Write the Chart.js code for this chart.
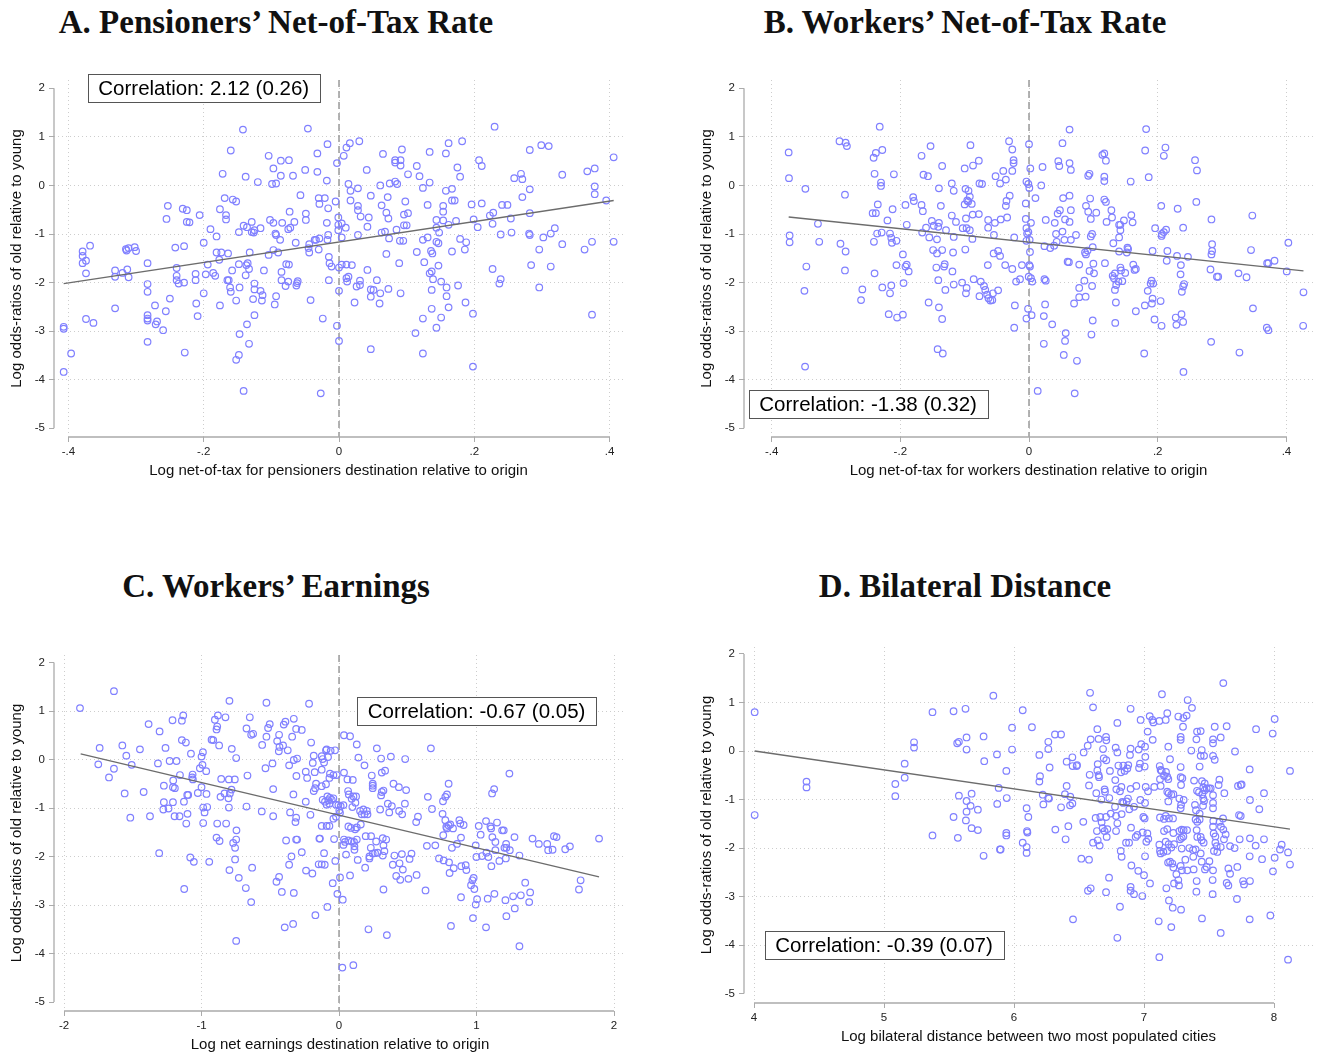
<!DOCTYPE html>
<html>
<head>
<meta charset="utf-8">
<title>Log odds-ratios</title>
<script src="https://cdn.jsdelivr.net/npm/chart.js@4.4.1/dist/chart.umd.min.js"></script>
<style>
    body { margin: 0; background: #fff; width: 1320px; height: 1055px; position: relative; overflow: hidden; }
    .titolo { position: absolute; font-family: "Liberation Serif", serif; font-weight: bold; font-size: 33px;
              line-height: 33px; color: #111; text-align: center; white-space: nowrap; }
    canvas { position: absolute; }
</style>
</head>
<body>
<div class="titolo" style="left:0;width:552px;top:6px">A. Pensioners’ Net-of-Tax Rate</div>
<div class="titolo" style="left:690px;width:550px;top:6px">B. Workers’ Net-of-Tax Rate</div>
<div class="titolo" style="left:0;width:552px;top:570px">C. Workers’ Earnings</div>
<div class="titolo" style="left:690px;width:550px;top:570px">D. Bilateral Distance</div>

<canvas id="graficoA" width="660" height="440" style="left:0;top:60px"></canvas>
<canvas id="graficoB" width="630" height="440" style="left:690px;top:60px"></canvas>
<canvas id="graficoC" width="660" height="455" style="left:0;top:600px"></canvas>
<canvas id="graficoD" width="630" height="455" style="left:690px;top:600px"></canvas>

<script>
// tick degli assi
var ticksXA = [-0.4, -0.2, 0, 0.2, 0.4];
var ticksXB = [-0.4, -0.2, 0, 0.2, 0.4];
var ticksXC = [-2, -1, 0, 1, 2];
var ticksXD = [4, 5, 6, 7, 8];
var ticksY = [-5, -4, -3, -2, -1, 0, 1, 2];

// testi
var titoloY = 'Log odds-ratios of old relative to young';
var titoliX = [
    'Log net-of-tax for pensioners destination relative to origin',
    'Log net-of-tax for workers destination relative to origin',
    'Log net earnings destination relative to origin',
    'Log bilateral distance between two most populated cities'
];
var correlazioni = [
    'Correlation: 2.12 (0.26)',
    'Correlation: -1.38 (0.32)',
    'Correlation: -0.67 (0.05)',
    'Correlation: -0.39 (0.07)'
];

// rette di regressione (estremi)
var fitAx = [-0.407, 0.406], fitAy = [-2.02, -0.31];
var fitBx = [-0.3735, 0.4265], fitBy = [-0.65, -1.76];
var fitCx = [-1.879, 1.891], fitCy = [0.116, -2.42];
var fitDx = [4.005, 8.123], fitDy = [0.0, -1.61];

// punti [x, y]
var puntiA = [
[-0.407,-2.91],[-0.407,-2.95],[-0.396,-3.46],[-0.407,-3.84],[-0.379,-1.36],[-0.379,-1.45],[-0.379,-1.60],[-0.374,-1.55],[-0.374,-1.81],[-0.368,-1.24],[-0.374,-2.75],[-0.363,-2.83],
[-0.331,-1.75],[-0.331,-1.88],[-0.331,-2.53],[-0.32,-1.80],[-0.314,-1.34],[-0.315,-1.31],[-0.311,-1.29],[-0.313,-1.73],[-0.311,-1.89],[-0.302,-1.27],[-0.300,-1.35],
[-0.283,-1.60],[-0.283,-2.03],[-0.283,-2.19],[-0.283,-2.67],[-0.283,-2.74],[-0.283,-2.78],[-0.283,-3.22],[-0.272,-2.47],[-0.271,-2.86],[-0.269,-2.80],[-0.260,-2.98],[-0.256,-2.59],[-0.250,-2.33],[-0.253,-0.42],[-0.255,-0.69],[-0.242,-1.28],[-0.240,-1.70],[-0.240,-1.86],[-0.240,-1.95],[-0.237,-2.02],[-0.231,-0.48],[-0.225,-0.51],[-0.229,-1.25],[-0.229,-2.00],[-0.228,-3.44],[-0.225,-0.75],[-0.221,-0.76],[-0.212,-1.82],[-0.212,-1.95],[-0.211,-2.43],[-0.209,-2.69],[-0.206,-0.61],[-0.200,-1.18],[-0.200,-2.22],[-0.194,-1.63],[-0.197,-1.83],[-0.190,-0.90],[-0.186,-1.80],[-0.183,-1.86],[-0.181,-1.05],[-0.176,-0.49],[-0.176,-2.47],[-0.172,0.24],[-0.169,-0.26],[-0.167,-0.61],[-0.167,-0.70],[-0.181,-1.38],[-0.177,-1.53],[-0.174,-1.38],[-0.164,-1.40],[-0.165,-1.95],[-0.163,-1.95],[-0.161,-2.10],[-0.160,0.72],[-0.160,-2.19],[-0.158,-1.75],[-0.157,-0.29],[-0.152,-0.33],[-0.152,-2.37],[-0.147,-3.06],[-0.148,-0.96],[-0.148,-1.62],[-0.147,-2.10],[-0.148,-3.49],[-0.152,-3.59],[-0.142,1.15],[-0.141,-4.23],[-0.141,-0.83],[-0.138,0.18],[-0.138,-1.85],[-0.137,-1.64],[-0.135,-1.60],[-0.136,-0.86],[-0.133,-1.72],[-0.132,-1.38],[-0.136,-2.86],[-0.133,-3.26],[-0.129,-0.75],[-0.129,-0.96],[-0.126,-0.97],[-0.125,-0.92],[-0.125,-2.02],[-0.125,-2.14],[-0.127,-2.34],[-0.125,-2.67],[-0.120,0.07],[-0.116,-0.88],[-0.116,-2.17],[-0.113,-2.26],[-0.114,-2.37],[-0.111,-1.75],[-0.104,0.61],[-0.104,-1.43],[-0.102,-0.71],[-0.097,-0.77],[-0.097,0.35],[-0.099,0.03],[-0.093,0.04],[-0.097,-1.33],[-0.094,-0.99],[-0.093,-1.02],[-0.090,-1.38],[-0.087,-1.12],[-0.086,0.51],[-0.086,0.20],[-0.084,-0.77],[-0.085,-1.78],[-0.085,-1.95],[-0.093,-2.28],[-0.095,-2.45],[-0.079,-2.07],[-0.078,-1.62],[-0.074,0.52],[-0.075,-1.98],[-0.075,-0.90],[-0.072,-0.87],[-0.073,-0.54],[-0.074,-1.63],[-0.068,0.20],[-0.066,-0.75],[-0.064,-1.18],[-0.063,-2.06],[-0.062,-2.01],[-0.061,-1.97],[-0.057,-0.20],[-0.050,0.32],[-0.049,-0.58],[-0.049,-0.71],[-0.046,1.17],[-0.044,-1.21],[-0.045,-1.29],[-0.044,-1.38],[-0.042,-2.36],[-0.036,-1.12],[-0.034,-1.12],[-0.032,0.66],[-0.032,0.28],[-0.030,-0.26],[-0.029,-0.38],[-0.030,-1.32],[-0.029,-1.09],[-0.027,-4.28],[-0.024,-2.74],[-0.021,-0.26],[-0.018,0.10],[-0.017,0.85],[-0.018,-0.77],[-0.016,-1.02],[-0.017,-1.12],[-0.015,-1.47],[-0.014,-1.60],[-0.015,-1.95],[-0.016,-0.47],[-0.011,-1.67],
[-0.003,0.46],[-0.005,-0.33],[-0.001,-0.66],[-0.001,-0.81],[-0.001,-0.92],[0.004,-0.78],[0.004,-1.07],[0,-1.69],[0,-2.17],[-0.003,-2.89],[0,-3.20],[0.004,-1.63],[0.007,0.61],[0.011,0.78],[0.016,0.87],[0.030,0.91],[0.014,0.03],[0.017,-0.11],[0.017,-0.31],[0.028,-0.06],[0.028,-0.42],[0.028,-0.51],[0.032,-0.64],[0.028,-1.02],[0.010,-0.87],[0.011,-1.63],[0.019,-1.64],[0.011,-1.91],[0.014,-1.88],[0.012,-1.98],[0.023,-2.41],[0.026,-2.08],[0.031,-1.96],[0.031,-2.05],[0.041,0.32],[0.044,-0.66],[0.042,-0.85],[0.042,-1.74],[0.047,-0.21],[0.047,-2.14],[0.051,-2.15],[0.047,-2.29],[0.047,-3.37],[0.056,-1.95],[0.061,-2.22],[0.060,-2.43],[0.061,0.00],[0.065,0.65],[0.063,-0.41],[0.063,-0.97],[0.068,-0.95],[0.070,-1.41],[0.072,-0.24],[0.070,-0.56],[0.073,-0.68],[0.074,-1.09],[0.073,-2.13],[0.075,0.04],[0.083,0.52],[0.083,0.47],[0.083,0.08],[0.086,0.03],[0.085,-0.91],[0.089,-1.60],[0.090,-1.14],[0.095,-1.14],[0.091,0.52],[0.091,0.41],[0.093,0.74],[0.091,-2.22],[0.096,-0.60],[0.098,-0.33],[0.102,-0.57],[0.096,-0.82],[0.100,-0.82],[0.102,0.23],[0.115,0.40],[0.119,0.19],[0.124,-0.05],[0.131,-0.40],[0.131,-1.07],[0.124,-1.12],[0.115,-1.37],[0.126,-1.58],[0.134,0.69],[0.134,0.06],[0.134,-1.81],[0.137,-1.77],[0.136,-1.35],[0.138,-1.40],[0.139,-1.93],[0.137,-2.15],[0.137,-2.54],[0.124,-2.74],[0.113,-3.04],[0.124,-3.46],[0.144,-2.93],[0.151,-2.72],[0.151,-1.98],[0.144,-1.16],[0.147,-1.19],[0.147,-1.65],[0.144,-0.87],[0.144,-0.71],[0.148,-0.97],[0.154,-0.42],[0.154,-0.54],[0.154,-0.72],[0.158,0.66],[0.158,-0.11],[0.162,0.87],[0.159,-2.10],[0.159,-2.28],[0.162,-2.51],[0.162,-0.81],[0.167,-0.07],[0.167,-0.31],[0.171,-0.31],[0.167,-1.36],[0.173,-0.73],[0.175,0.37],[0.179,0.18],[0.179,-1.10],[0.176,-2.06],[0.182,0.91],[0.186,-1.32],[0.188,-1.17],[0.187,-2.41],[0.196,-0.39],[0.199,-0.70],[0.205,-0.86],[0.198,-2.64],[0.198,-3.73],[0.207,0.52],[0.211,0.40],[0.211,-0.37],[0.223,-0.62],[0.228,-0.56],[0.227,-0.79],[0.227,-1.72],[0.230,1.21],[0.239,-1.01],[0.239,-1.93],[0.237,-2.02],[0.241,-0.40],[0.249,-0.40],[0.254,-0.68],[0.255,-0.97],[0.259,0.15],[0.269,0.24],[0.271,0.13],[0.271,-0.24],[0.282,0.73],[0.282,-0.08],[0.282,-0.57],[0.281,-0.99],[0.282,-1.02],[0.284,-1.64],[0.296,-2.10],[0.296,-1.32],[0.299,0.83],[0.302,-1.07],[0.310,0.81],[0.313,-0.99],[0.313,-1.67],[0.319,-0.88],[0.330,0.22],[0.330,-1.21],[0.363,-1.32],[0.367,0.29],[0.374,-1.16],[0.374,-2.66],[0.378,0.35],[0.378,-0.02],[0.378,-0.18],[0.395,-0.31],[0.406,0.58],[0.406,-1.16]
];

var puntiB = [
[-0.3735,0.68],[-0.373,0.15],[-0.372,-1.03],[-0.372,-1.17],[-0.3475,-0.07],[-0.349,-2.17],[-0.346,-1.67],[-0.348,-3.73],[-0.328,-0.79],[-0.326,-1.16],[-0.2945,0.91],[-0.285,0.88],[-0.283,0.81],[-0.286,-0.19],[-0.293,-1.20],[-0.285,-1.36],[-0.286,-1.75],[-0.261,-2.36],[-0.259,-2.14],[-0.2415,0.57],[-0.238,0.67],[-0.232,1.21],[-0.228,0.73],[-0.240,0.24],[-0.230,0.06],[-0.230,-0.01],[-0.235,-0.39],[-0.243,-0.57],[-0.238,-0.57],[-0.236,-0.99],[-0.229,-0.97],[-0.241,-1.16],[-0.240,-1.81],[-0.220,-0.72],[-0.216,-0.99],[-0.214,-1.08],[-0.213,-1.18],[-0.206,-1.14],[-0.212,-0.49],[-0.210,0.23],[-0.228,-2.10],[-0.216,-2.22],[-0.214,-2.06],[-0.218,-2.65],[-0.205,-2.72],[-0.196,-2.66],[-0.206,-1.64],[-0.196,-1.42],[-0.195,-2.01],[-0.192,-0.40],[-0.190,-0.81],[-0.192,-1.67],[-0.190,-1.63],[-0.187,-1.77],[-0.180,-0.24],[-0.179,-0.32],[-0.167,0.61],[-0.167,-0.40],[-0.165,-0.53],[-0.164,0.22],[-0.157,0.19],[-0.153,0.81],[-0.166,-0.97],[-0.160,-0.87],[-0.155,-1.07],[-0.151,-0.73],[-0.148,-0.83],[-0.149,-1.33],[-0.143,-1.40],[-0.140,-0.77],[-0.141,-0.85],[-0.143,-1.11],[-0.144,-1.69],[-0.141,-1.95],[-0.156,-2.41],[-0.140,-2.51],[-0.135,-2.75],[-0.142,-3.37],[-0.134,-3.46],[-0.140,-0.06],[-0.135,0.40],[-0.137,-0.42],[-0.135,-1.33],[-0.131,-1.62],[-0.132,-1.67],[-0.130,-2.15],[-0.129,-0.92],[-0.120,0.04],[-0.117,-0.11],[-0.120,-0.62],[-0.1135,-0.75],[-0.117,-1.06],[-0.118,-1.38],[-0.119,-1.77],[-0.117,-2.04],[-0.104,-2.00],[-0.100,0.35],[-0.0987,-0.07],[-0.094,-0.11],[-0.100,-0.39],[-0.096,-0.31],[-0.092,-0.23],[-0.0945,-0.33],[-0.089,-0.38],[-0.098,-0.68],[-0.0875,-0.60],[-0.078,-0.59],[-0.103,-0.88],[-0.097,-0.88],[-0.092,-0.92],[-0.088,-1.10],[-0.099,-1.32],[-0.091,0.83],[-0.087,0.41],[-0.078,0.51],[-0.077,0.04],[-0.073,0.03],[-0.097,-2.11],[-0.098,-2.22],[-0.086,-1.93],[-0.077,-2.28],[-0.075,-1.98],[-0.070,-2.07],[-0.068,-2.15],[-0.065,-2.25],[-0.063,-2.32],[-0.060,-2.37],[-0.057,-2.36],[-0.056,-2.22],[-0.048,-2.16],[-0.0635,-0.71],[-0.0635,-0.87],[-0.064,-1.64],[-0.0545,-1.02],[-0.053,-0.77],[-0.055,-1.40],[-0.048,-1.35],[-0.045,-1.45],[-0.052,0.19],[-0.045,0.04],[-0.044,-0.70],
[-0.031,0.91],[-0.026,0.74],[-0.024,0.52],[-0.024,0.46],[-0.040,0.30],[-0.026,0.30],[-0.036,0.12],[-0.030,-0.21],[-0.035,-0.32],[-0.036,-0.42],[-0.034,-0.66],[-0.023,-1.07],[-0.037,-1.64],[-0.026,-1.72],[-0.020,-1.98],[-0.014,-1.93],[-0.022,-2.47],[-0.023,-2.93],[0,0.85],[0.002,0.35],[-0.004,0.08],[-0.001,0.03],[0.0005,-0.05],[-0.005,-0.37],[-0.005,-0.69],[0.003,-0.77],[-0.004,-0.88],[-0.001,-0.96],[-0.003,-0.99],[0.001,-1.12],[-0.004,-1.14],[0.0015,-1.37],[0.0005,-1.64],[0.0015,-1.67],[-0.0005,-1.88],[0.003,-1.91],[0.005,-1.98],[-0.0015,-2.54],[-0.004,-2.74],[0.004,-2.67],[0.0135,-4.23],[-0.011,-1.64],[0.010,-0.26],[0.021,0.38],[0.019,0.00],[0.026,-0.71],[0.024,-1.25],[0.024,-1.93],[0.026,-1.96],[0.025,-2.45],[0.023,-2.69],[0.023,-3.26],[0.036,-2.86],[0.033,-1.29],[0.039,-1.24],[0.040,-0.77],[0.043,-1.16],[0.042,-1.00],[0.0445,-0.58],[0.048,-0.51],[0.0455,0.50],[0.047,0.40],[0.052,0.87],[0.053,-0.26],[0.052,-0.95],[0.055,-1.12],[0.056,-0.70],[0.063,1.15],[0.063,0.46],[0.065,0.32],[0.063,-0.21],[0.065,-0.51],[0.063,-0.75],[0.065,-1.12],[0.073,-1.02],[0.060,-1.57],[0.062,-1.58],[0.078,-1.63],[0.078,-2.11],[0.078,-2.30],[0.070,-2.43],[0.057,-3.04],[0.056,-3.20],[0.054,-3.49],[0.0745,-3.61],[0.071,-4.28],[0.086,-1.96],[0.088,-2.29],[0.087,-1.38],[0.0885,-1.42],[0.091,-1.34],[0.0885,-0.42],[0.092,-0.54],[0.092,0.20],[0.094,0.24],[0.095,-0.27],[0.096,-0.69],[0.096,-1.05],[0.098,-1.00],[0.099,-1.27],[0.094,-1.76],[0.101,-1.81],[0.100,-1.61],[0.098,-2.07],[0.099,-2.78],[0.097,-3.07],[0.1045,-0.56],[0.114,0.63],[0.117,0.66],[0.1195,0.51],[0.117,0.18],[0.117,0.09],[0.117,-0.29],[0.1195,-0.34],[0.1205,-0.75],[0.118,-1.60],[0.128,-0.51],[0.129,-0.66],[0.131,-1.19],[0.130,-1.86],[0.1335,-1.81],[0.132,-1.91],[0.1355,-2.05],[0.1335,-2.15],[0.135,-2.41],[0.134,-2.83],[0.139,-1.98],[0.140,-0.81],[0.142,-0.81],[0.142,-0.92],[0.140,-1.07],[0.140,-1.36],[0.142,-1.69],[0.143,-1.75],[0.145,-1.97],[0.1475,-0.72],[0.1495,-1.80],[0.152,-1.38],[0.153,-1.28],[0.154,-1.31],[0.158,0.08],[0.159,-0.61],[0.161,-0.76],[0.162,-1.63],[0.164,-1.74],[0.166,-1.72],[0.166,-2.59],[0.179,-3.46],[0.1805,0.72],[0.182,1.16],[0.186,0.17],[0.180,-2.47],[0.1845,-2.17],[0.189,-2.02],[0.1905,-1.96],[0.193,-2.02],[0.192,-2.33],[0.191,-2.43],[0.192,-1.35],[0.196,-0.88],[0.195,-2.76],[0.2055,-0.42],[0.2065,-1.00],[0.206,-1.04],[0.2095,-0.96],[0.213,-0.91],[0.2095,0.61],[0.212,0.78],[0.215,-1.35],[0.214,-1.55],[0.2045,-2.38],[0.206,-2.89],[0.228,-2.72],[0.229,-2.87],[0.231,-0.48],[0.230,-1.45],[0.236,-1.64],[0.2355,-1.83],[0.2395,-0.87],[0.247,-1.47],[0.237,-2.65],[0.2395,-2.81],[0.2375,-2.19],[0.2395,-2.08],[0.241,-2.03],[0.240,-3.84],[0.258,0.52],[0.261,0.31],[0.260,-0.34],[0.2835,-0.70],[0.2845,-1.21],[0.2845,-1.35],[0.2835,-1.42],[0.282,-1.73],[0.292,-1.88],[0.294,-1.88],[0.283,-3.22],[0.3255,-1.81],[0.338,-1.89],[0.327,-3.44],[0.347,-0.62],[0.345,-1.33],[0.348,-2.53],[0.3695,-2.93],[0.372,-2.98],[0.370,-1.60],[0.372,-1.60],[0.3815,-1.55],[0.4005,-1.77],[0.403,-1.18],[0.4265,-2.20],[0.426,-2.89]
];

var puntiC = [
[-1.884,1.06],[-1.637,1.41],[-1.741,0.24],[-1.751,-0.10],[-1.673,-0.37],[-1.637,-0.19],[-1.576,0.29],[-1.547,0.08],[-1.508,-0.11],[-1.559,-0.70],[-1.518,-1.20],[-1.448,0.21],[-1.421,-0.67],[-1.385,0.73],[-1.375,-1.17],[-1.317,-0.08],[-1.305,0.58],[-1.308,-1.93],[-1.274,-0.54],[-1.274,-0.88],[-1.278,-1.03],[-1.262,0.24],[-1.240,-1.01],[-1.232,-0.03],[-1.208,-0.88],[-1.211,0.81],[-1.206,-0.43],[-1.208,-0.57],[-1.194,-0.59],[-1.196,-1.17],[-1.182,-0.03],[-1.157,-0.32],[-1.160,-1.17],[-1.143,0.80],[-1.133,0.91],[-1.143,0.40],[-1.114,0.35],[-1.128,-0.87],[-1.111,-1.32],[-1.104,-0.73],[-1.097,-0.73],[-1.102,-1.12],[-1.126,-2.67],[-1.082,-2.02],[-1.056,-2.11],[-1.077,0.12],[-1.065,-0.31],[-1.068,-0.37],[-1.063,-0.41],[-1.027,-0.69],[-1.012,-0.18],[-0.993,-0.11],[-1.000,0.06],[-0.990,0.15],[-1.000,-0.57],[-0.966,-0.24],[-0.964,-0.71],[-0.988,-0.99],[-0.978,-1.09],[-0.959,-0.98],[-0.988,-1.31],[-0.944,-2.11],[-0.927,0.41],[-0.915,0.40],[-0.903,0.82],[-0.891,0.62],[-0.886,0.68],[-0.881,0.91],[-0.872,0.29],[-0.891,-1.61],[-0.886,-1.32],[-0.869,-1.68],[-0.857,-0.40],[-0.862,-0.77],[-0.833,-0.70],[-0.826,0.87],[-0.821,-1.32],[-0.801,-0.41],[-0.804,-0.80],[-0.801,-0.99],[-0.797,1.21],[-0.780,0.22],[-0.782,-0.62],[-0.794,-0.70],[-0.758,-0.41],[-0.748,0.03],[-0.746,-1.46],[-0.748,-1.65],[-0.770,-1.72],[-0.756,-1.82],[-0.756,-2.06],[-0.797,-2.28],[-0.729,-2.44],[-0.748,-3.74],[-0.678,-2.65],[-0.639,-2.94],[-0.632,-2.23],[-0.673,0.64],[-0.649,0.87],[-0.639,0.51],[-0.625,0.53],[-0.666,-0.33],[-0.673,-0.97],[-0.559,0.30],[-0.562,-1.07],[-0.535,-0.18],[-0.528,1.17],[-0.528,0.47],[-0.516,0.65],[-0.504,0.73],[-0.484,-0.08],[-0.479,-0.61],[-0.479,-1.17],[-0.455,-2.52],[-0.436,-2.42],[-0.416,-2.73],[-0.395,-3.46],[-0.450,0.38],[-0.436,0.51],[-0.433,0.26],[-0.438,0.17],[-0.402,0.72],[-0.390,0.78],[-0.407,0.29],[-0.373,0.19],[-0.385,-1.67],[-0.363,-0.12],[-0.356,-1.09],[-0.363,-2.17],[-0.346,-2.00],[-0.341,0.47],[-0.329,0.84],[-0.332,-0.72],[-0.329,-0.01],[-0.317,-1.29],[-0.312,-1.20],[-0.312,-1.65],[-0.305,-1.65],[-0.310,-0.34],[-0.305,0.02],[-0.312,0.63],[-0.329,-2.75],[-0.334,-3.39],[-0.271,0.61],[-0.271,-1.91],[-0.242,-0.25],[-0.232,-0.38],[-0.242,-0.87],[-0.240,-2.29],[-0.208,-1.14],[-0.218,1.15],[-0.203,0.35],[-0.194,-2.35],[-0.191,-0.07],[-0.184,0.08],[-0.177,-0.26],[-0.184,-0.65],[-0.174,-0.59],[-0.167,-0.50],[-0.172,-3.21],[-0.143,-1.63],[-0.148,-2.16],
[-0.126,0.07],[-0.095,0.19],[-0.090,0.21],[-0.061,0.18],[-0.029,0.19],[-0.119,0.01],[-0.080,0.05],[-0.109,-0.06],[-0.126,-0.21],[-0.066,-0.29],[-0.041,-0.32],[-0.017,-0.32],[-0.070,-0.38],[-0.126,-0.55],[-0.095,-0.51],[-0.119,-0.83],[-0.102,-0.87],[-0.085,-0.76],[-0.078,-0.84],[-0.066,-0.79],[-0.053,-0.83],[-0.041,-0.80],[-0.090,-0.93],[-0.070,-0.91],[-0.022,-0.93],[-0.005,-0.94],[0.012,-0.96],[0.032,-0.94],[0.002,-1.05],[0.007,-1.10],[-0.041,-1.22],[-0.022,-1.18],[-0.090,-1.37],[-0.070,-1.37],[-0.126,-1.37],[-0.139,-1.63],[-0.036,-1.64],[-0.109,-1.93],[-0.126,-2.16],[-0.104,-2.17],[-0.027,-2.09],[-0.046,-2.55],[0.007,-2.43],[-0.012,-2.77],[0.027,-2.89],[-0.085,-3.04],[0.024,-4.29],[0.104,-4.24],[0.036,0.50],[0.080,0.48],[0.129,0.31],[0.141,0.04],[0.185,-0.12],[0.036,-0.27],[0.061,-0.41],[0.100,-0.42],[0.066,-0.65],[0.071,-0.72],[0.092,-0.81],[0.105,-0.76],[0.124,-0.76],[0.097,-0.98],[0.119,-0.89],[0.068,-1.38],[0.087,-1.41],[0.117,-1.44],[0.129,-1.40],[0.158,-1.34],[0.036,-1.65],[0.044,-1.70],[0.068,-1.67],[0.092,-1.69],[0.109,-1.70],[0.129,-1.65],[0.032,-1.76],[0.112,-1.79],[0.112,-1.86],[0.051,-1.96],[0.136,-2.07],[0.080,-2.39],[0.153,-1.06],[0.165,-1.13],[0.185,-1.13],[0.202,-1.06],[0.207,-1.13],[0.177,-1.03],[0.194,-1.58],[0.190,-2.23],[0.214,-3.50],[0.233,-1.58],[0.238,-0.33],[0.245,-0.50],[0.245,-0.54],[0.245,-0.59],[0.275,0.23],[0.270,-1.69],[0.221,-2.00],[0.221,-2.04],[0.231,-1.82],[0.245,-1.94],[0.262,-1.93],[0.280,-1.92],[0.299,-1.03],[0.306,-0.74],[0.311,-0.67],[0.306,0.02],[0.311,-0.27],[0.335,-0.23],[0.323,-0.64],[0.318,-1.62],[0.343,-1.65],[0.323,-1.77],[0.330,-1.89],[0.318,-1.98],[0.323,-2.68],[0.348,-3.62],[0.355,-0.91],[0.365,-1.09],[0.377,0.06],[0.384,-0.96],[0.396,-0.50],[0.435,-0.57],[0.437,-1.06],[0.459,-1.13],[0.479,-0.91],[0.488,-0.63],[0.481,0.01],[0.403,-1.98],[0.457,-1.95],[0.391,-2.17],[0.440,-2.14],[0.416,-2.40],[0.445,-2.48],[0.464,-2.27],[0.505,-2.46],[0.513,-2.05],[0.527,-1.94],[0.561,-1.29],[0.574,-1.18],[0.564,-2.38],[0.629,-2.70],[0.639,-1.78],[0.700,-1.77],[0.646,-0.77],[0.676,-1.02],[0.668,0.23],[0.727,-2.04],[0.761,-2.08],[0.753,-1.12],[0.756,-0.86],[0.773,-1.25],[0.780,-1.39],[0.785,-1.42],[0.758,-1.56],[0.773,-0.77],[0.785,-0.72],[0.797,-0.50],[0.797,-1.36],[0.809,-1.34],[0.829,-1.42],[0.800,-2.12],[0.804,-2.34],[0.834,-2.24],[0.821,-1.82],[0.814,-3.43],[0.858,-1.74],[0.875,-1.25],[0.882,-1.32],[0.906,-1.35],[0.887,-1.61],[0.889,-2.20],[0.921,-2.18],[0.926,-2.28],[0.887,-2.84],[0.960,-2.59],[0.970,-2.49],[0.979,-2.44],[0.984,-2.67],[0.974,-3.27],[0.994,-2.99],[1.004,-2.88],[0.994,-1.77],[0.999,-2.01],[1.016,-1.37],[1.030,-1.55],[1.040,-1.99],[1.069,-1.27],[1.072,-1.92],[1.086,-2.01],[1.101,-1.38],[1.106,-1.42],[1.108,-2.20],[1.081,-2.87],[1.069,-3.46],[1.113,-0.70],[1.128,-0.61],[1.115,-1.60],[1.137,-1.70],[1.137,-1.87],[1.149,-1.30],[1.130,-2.77],[1.166,-2.09],[1.186,-1.46],[1.198,-1.46],[1.203,-1.82],[1.217,-1.82],[1.215,-1.74],[1.213,-2.04],[1.242,-1.87],[1.239,-0.29],[1.210,-2.90],[1.217,-3.23],[1.276,-1.60],[1.266,-2.82],[1.278,-3.07],[1.312,-1.98],[1.322,-2.80],[1.312,-3.85],[1.354,-2.54],[1.383,-2.94],[1.390,-2.74],[1.407,-1.63],[1.453,-1.74],[1.514,-1.74],[1.521,-1.87],[1.553,-1.86],[1.563,-1.58],[1.582,-1.60],[1.645,-1.85],[1.679,-1.79],[1.745,-2.68],[1.757,-2.49],[1.891,-1.63]
];

var puntiD = [
[4.005,0.80],[4.005,-1.32],[4.404,-0.63],[4.404,-0.75],[5.087,-0.68],[5.087,-0.93],[5.159,-0.26],[5.159,-0.55],[5.231,0.18],[5.231,0.07],[5.373,0.80],[5.373,-1.74],[5.535,0.82],[5.535,-1.36],[5.568,-1.79],[5.627,0.87],[5.635,0.28],[5.635,0.03],[5.563,0.16],[5.576,0.19],[5.576,-0.92],[5.674,-0.88],[5.635,-1.03],[5.666,-1.13],[5.635,-1.25],[5.722,-1.21],[5.630,-1.43],[5.674,-1.59],[5.722,-1.63],[5.766,-2.16],[5.766,0.30],[5.771,-0.21],[5.841,1.14],[5.869,-0.07],[5.871,-1.09],[5.882,-0.76],[5.892,-2.03],[5.897,-2.03],
[5.941,-0.41],[5.944,-0.97],[5.941,-1.69],[5.941,-1.74],[5.985,0.48],[5.985,0.03],[6.067,0.84],[6.138,0.49],[6.067,-1.89],[6.097,-1.98],[6.097,-2.10],[6.100,-1.65],[6.103,-1.68],[6.097,-1.18],[6.110,-1.36],[6.195,-0.08],[6.200,-0.52],[6.195,-0.63],[6.221,-0.90],[6.226,-1.10],[6.264,-0.97],[6.269,-0.98],[6.264,0.19],[6.264,0.04],[6.274,-0.34],[6.315,0.34],[6.362,0.34],[6.362,-1.16],[6.318,-1.62],[6.397,-1.82],[6.418,-1.55],[6.405,-0.22],[6.405,-0.72],[6.392,-0.89],[6.433,-0.94],[6.431,-1.12],[6.449,-1.08],[6.449,-0.13],[6.451,-0.31],[6.485,-0.29],[6.482,-0.31],[6.454,-3.47],[6.536,-0.03],[6.533,-1.46],[6.518,-2.22],[6.577,-2.24],[6.567,0.11],[6.590,0.24],[6.577,-0.71],[6.582,-0.49],[6.585,1.20],[6.608,0.90],[6.569,-2.88],[6.590,-2.83],[6.608,-1.89],[6.633,-0.87],[6.628,-1.38],[6.641,-0.40],[6.644,-0.27],[6.651,-0.50],[6.654,-0.54],[6.641,0.45],[6.651,0.25],[6.638,-1.65],[6.644,-1.84],[6.659,-1.95],[6.664,-1.36],[6.674,-1.47],[6.672,-1.00],[6.682,-1.59],[6.697,-0.79],[6.700,-0.84],[6.685,0.04],[6.690,-0.15],[6.708,0.29],[6.710,0.22],[6.710,-0.19],[6.708,-1.36],[6.697,-1.65],[6.713,-1.77],[6.718,-1.61],[6.738,-0.41],[6.733,-0.97],[6.744,-1.29],[6.708,-2.91],[6.731,-2.61],[6.782,0.07],[6.795,-0.03],[6.779,-0.60],[6.787,-0.79],[6.777,-1.15],[6.785,-1.34],[6.795,-1.49],[6.785,-1.65],[6.795,0.58],[6.803,-0.30],[6.823,-0.44],[6.815,-0.83],[6.826,-0.74],[6.833,-1.05],[6.828,-1.30],[6.821,-2.06],[6.828,-2.18],[6.815,-3.21],[6.795,-3.85],[6.841,-0.30],[6.851,-0.41],[6.841,-1.07],[6.867,-1.04],[6.862,-1.89],[6.885,-1.89],[6.872,-0.36],[6.879,-0.29],[6.877,-0.98],[6.887,-1.20],[6.897,0.05],[6.897,0.87],[6.892,-0.08],[6.897,-0.78],[6.900,-1.58],[6.903,-2.36],[6.897,-2.80],[6.897,-2.88],[6.923,-2.95],[6.941,-0.72],[6.923,-1.15],[6.936,-1.77],[6.949,-1.73],[6.959,0.03],[6.969,-0.26],[6.962,-0.35],[6.972,-1.01],[6.956,-2.47],[6.979,0.14],[6.990,-1.68],[6.995,-1.36],[7.005,-1.39],[7.000,-2.56],[7.008,-1.07],[7.008,0.09],[7.010,-0.12],[7.005,-0.32],[7.013,-0.74],[7.018,-1.87],[7.026,-1.70],[7.033,-1.81],[7.008,-2.17],[6.987,-2.99],[6.974,0.64],[7.028,0.40],[7.031,-0.83],[7.044,0.72],[7.064,0.64],[7.072,0.59],[7.067,0.23],[7.079,-0.74],[7.046,-2.73],[7.113,-3.51],[7.118,-4.25],[7.138,1.17],[7.118,0.62],[7.167,0.64],[7.179,0.78],[7.187,0.09],[7.200,-0.17],[7.121,-0.31],[7.128,-0.39],[7.136,-0.41],[7.123,-0.58],[7.128,-0.72],[7.154,-0.51],[7.169,-0.43],[7.179,-0.53],[7.187,-0.58],[7.179,-0.84],[7.190,-0.87],[7.210,-0.90],[7.226,-0.89],[7.187,-1.04],[7.123,-1.37],[7.154,-1.40],[7.167,-1.34],[7.192,-1.39],[7.223,-1.39],[7.154,-1.65],[7.179,-1.61],[7.226,-1.69],[7.167,-1.87],[7.190,-1.92],[7.210,-1.99],[7.231,-1.92],[7.118,-1.93],[7.123,-2.06],[7.128,-2.11],[7.149,-2.08],[7.179,-2.06],[7.185,-2.30],[7.200,-2.28],[7.218,-2.32],[7.226,-2.40],[7.249,-2.54],[7.231,-2.73],[7.264,-2.66],[7.269,-2.77],[7.172,-2.83],[7.192,-3.08],[7.221,-3.23],[7.210,-3.63],[7.285,-3.27],[7.264,0.71],[7.303,0.68],[7.328,0.73],[7.336,1.05],[7.369,0.89],[7.300,0.50],[7.282,0.29],[7.282,0.23],[7.282,-0.33],[7.282,-0.54],[7.295,-0.56],[7.285,-0.70],[7.272,-0.98],[7.305,-1.01],[7.285,-1.11],[7.282,-1.18],[7.272,-1.65],[7.290,-1.62],[7.305,-1.63],[7.331,-1.63],[7.277,-1.82],[7.290,-1.79],[7.303,-1.76],[7.290,-2.01],[7.282,-2.37],[7.292,-2.46],[7.318,-2.24],[7.333,-2.46],[7.349,-2.00],[7.364,0.01],[7.377,-2.04],[7.379,-2.18],[7.397,-2.03],[7.397,-1.41],[7.410,-1.46],[7.392,-1.11],[7.400,-1.22],[7.408,0.40],[7.436,0.41],[7.403,0.24],[7.428,-0.32],[7.385,-0.61],[7.408,-0.82],[7.423,-0.85],[7.428,-1.29],[7.428,-1.41],[7.405,-1.63],[7.410,-1.77],[7.436,-1.77],[7.444,-1.84],[7.459,-1.89],[7.436,-2.11],[7.444,-2.28],[7.405,-2.68],[7.403,-2.90],[7.382,-2.44],[7.446,-3.45],[7.444,0.02],[7.436,-0.10],[7.462,-0.10],[7.446,-0.62],[7.467,-0.67],[7.456,-0.75],[7.467,-0.81],[7.482,-0.77],[7.449,-0.89],[7.456,-0.98],[7.454,-1.13],[7.462,-1.03],[7.500,-0.77],[7.513,-0.77],[7.469,-2.44],[7.482,-2.39],[7.503,-2.27],[7.531,-2.46],[7.528,-2.66],[7.528,-2.95],[7.531,0.24],[7.531,0.16],[7.544,0.50],[7.531,-0.10],[7.544,-0.18],[7.590,0.28],[7.610,1.40],[7.636,0.51],[7.700,-0.01],[7.531,-0.91],[7.531,-1.07],[7.531,-1.18],[7.533,-1.44],[7.580,-0.59],[7.574,-0.70],[7.618,-0.87],[7.531,-1.56],[7.536,-1.70],[7.549,-1.76],[7.549,-1.89],[7.559,-1.96],[7.538,-2.06],[7.564,-2.08],[7.582,-1.46],[7.592,-1.56],[7.608,-1.39],[7.610,-1.62],[7.628,-1.72],[7.615,-1.82],[7.590,-1.98],[7.662,-1.96],[7.697,-2.00],[7.649,-2.42],[7.662,-2.53],[7.636,-2.72],[7.649,-2.77],[7.718,-2.39],[7.715,-3.05],[7.590,-3.75],[7.723,-0.72],[7.744,-0.70],[7.751,-0.69],[7.731,-1.32],[7.744,-1.34],[7.736,-1.82],[7.762,-2.68],[7.769,-2.75],[7.813,-0.38],[7.815,-1.01],[7.815,-1.80],[7.813,-2.17],[7.815,-2.68],[7.813,-3.47],[7.862,0.45],[7.887,-1.20],[7.859,-1.95],[7.908,-2.23],[7.923,-0.87],[7.923,-1.82],[7.972,-3.39],[7.990,0.36],[8.005,0.66],[7.992,-2.48],[8.005,-2.20],[8.046,-2.03],[8.059,-1.93],[8.108,-2.09],[8.123,-2.34],[8.123,-0.41],[8.108,-4.30]
];

var FONT = '"Liberation Sans", Arial, sans-serif';
var BLU = '#8080ff';
var GRIGIO_ASSE = '#ababab';
var GRIGIO_GRIGLIA = '#cdcdcd';

// etichette stile Stata: -.4 invece di -0.4
function formatoStata(v) {
    var s = String(Math.round(v * 10) / 10);
    return s.replace(/^(-?)0\./, '$1.');
}

// assi staccati, linea tratteggiata a zero e riquadro con la correlazione
var stileStata = {
    id: 'stileStata',
    beforeDatasetsDraw: function (chart, args, opts) {
        if (!opts.lineaZero) return;
        var ctx = chart.ctx, a = chart.chartArea;
        var px = chart.scales.x.getPixelForValue(0);
        ctx.save();
        ctx.strokeStyle = '#a0a0a0';
        ctx.lineWidth = 1.6;
        ctx.setLineDash([7, 4]);
        ctx.beginPath();
        ctx.moveTo(px, a.top);
        ctx.lineTo(px, a.bottom);
        ctx.stroke();
        ctx.restore();
    },
    afterDraw: function (chart, args, opts) {
        var ctx = chart.ctx, a = chart.chartArea;
        var sx = chart.scales.x, sy = chart.scales.y;
        var tx = opts.ticksX, ty = opts.ticksY;
        ctx.save();
        ctx.strokeStyle = GRIGIO_ASSE;
        ctx.lineWidth = 1.3;
        ctx.beginPath();
        ctx.moveTo(a.left, sy.getPixelForValue(ty[ty.length - 1]));
        ctx.lineTo(a.left, sy.getPixelForValue(ty[0]));
        ctx.moveTo(sx.getPixelForValue(tx[0]), a.bottom);
        ctx.lineTo(sx.getPixelForValue(tx[tx.length - 1]), a.bottom);
        ctx.stroke();

        // riquadro correlazione
        var e = opts.etichetta;
        var cx = sx.getPixelForValue(e.x), cy = sy.getPixelForValue(e.y);
        ctx.font = '20.5px ' + FONT;
        var w = ctx.measureText(e.testo).width + 21, h = 28;
        ctx.fillStyle = '#fff';
        ctx.fillRect(cx - w / 2, cy - h / 2, w, h);
        ctx.strokeStyle = '#555';
        ctx.lineWidth = 1;
        ctx.strokeRect(Math.round(cx - w / 2) + 0.5, Math.round(cy - h / 2) + 0.5, Math.round(w), h);
        ctx.fillStyle = '#000';
        ctx.textAlign = 'center';
        ctx.textBaseline = 'middle';
        ctx.fillText(e.testo, cx, cy + 1);
        ctx.restore();
    }
};

var pannelli = [
    { id: 'graficoA', punti: puntiA, fitX: fitAx, fitY: fitAy, ticksX: ticksXA, titoloX: titoliX[0],
      corr: correlazioni[0], posCorr: [-0.2, 2], lineaZero: true, formato: true,
      xMin: -0.4213, xMax: 0.4198, yMin: -5.179, yMax: 2.171,
      padding: { top: 20, right: 37, left: 0, bottom: 0 }, altezzaX: 63, padTitoloX: 20 },
    { id: 'graficoB', punti: puntiB, fitX: fitBx, fitY: fitBy, ticksX: ticksXB, titoloX: titoliX[1],
      corr: correlazioni[1], posCorr: [-0.25, -4.5], lineaZero: true, formato: true,
      xMin: -0.4429, xMax: 0.4413, yMin: -5.179, yMax: 2.171,
      padding: { top: 20, right: 7, left: 0, bottom: 0 }, altezzaX: 63, padTitoloX: 20 },
    { id: 'graficoC', punti: puntiC, fitX: fitCx, fitY: fitCy, ticksX: ticksXC, titoloX: titoliX[2],
      corr: correlazioni[2], posCorr: [1, 1], lineaZero: true, formato: false,
      xMin: -2.073, xMax: 2.087, yMin: -5.185, yMax: 2.155,
      padding: { top: 55, right: 34, left: 0, bottom: 0 }, altezzaX: 44, padTitoloX: 1 },
    { id: 'graficoD', punti: puntiD, fitX: fitDx, fitY: fitDy, ticksX: ticksXD, titoloX: titoliX[3],
      corr: correlazioni[3], posCorr: [5, -4], lineaZero: false, formato: false,
      xMin: 3.923, xMax: 8.30, yMin: -5.194, yMax: 2.144,
      padding: { top: 47, right: 7, left: 0, bottom: 0 }, altezzaX: 52, padTitoloX: 9 }
];

pannelli.forEach(function (p) {
    var ctx = document.getElementById(p.id).getContext('2d');
    new Chart(ctx, {
        type: 'scatter',
        data: {
            datasets: [
                {
                    type: 'line',
                    data: p.fitX.map(function (v, i) { return { x: v, y: p.fitY[i] }; }),
                    borderColor: '#6c6c6c',
                    borderWidth: 1.3,
                    pointRadius: 0,
                    fill: false
                },
                {
                    data: p.punti.map(function (q) { return { x: q[0], y: q[1] }; }),
                    pointStyle: 'circle',
                    pointRadius: 3.3,
                    pointBorderWidth: 1.2,
                    pointBorderColor: BLU,
                    pointBackgroundColor: 'rgba(0,0,0,0)'
                }
            ]
        },
        options: {
            responsive: false,
            animation: false,
            events: [],
            layout: { padding: p.padding },
            plugins: {
                legend: { display: false },
                tooltip: { enabled: false },
                stileStata: {
                    lineaZero: p.lineaZero,
                    ticksX: p.ticksX,
                    ticksY: ticksY,
                    etichetta: { x: p.posCorr[0], y: p.posCorr[1], testo: p.corr }
                }
            },
            scales: {
                x: {
                    type: 'linear',
                    min: p.xMin,
                    max: p.xMax,
                    afterFit: function (s) { s.height = p.altezzaX; },
                    afterBuildTicks: function (s) { s.ticks = p.ticksX.map(function (v) { return { value: v }; }); },
                    grid: { color: GRIGIO_GRIGLIA, lineWidth: 1, tickLength: 5, tickColor: GRIGIO_ASSE, tickWidth: 1, tickBorderDash: [] },
                    border: { display: false, dash: [1, 3] },
                    ticks: {
                        autoSkip: false, maxRotation: 0, padding: 3, color: '#222',
                        font: { family: FONT, size: 11.5 },
                        callback: function (v) { return p.formato ? formatoStata(v) : String(v); }
                    },
                    title: { display: true, text: p.titoloX, color: '#111', font: { family: FONT, size: 15 },
                             padding: { top: 0, bottom: p.padTitoloX } }
                },
                y: {
                    type: 'linear',
                    min: p.yMin,
                    max: p.yMax,
                    afterFit: function (s) { s.width = 54; },
                    afterBuildTicks: function (s) { s.ticks = ticksY.map(function (v) { return { value: v }; }); },
                    grid: {
                        color: function (c) {
                            if (c.tick && (c.tick.value === 2 || c.tick.value === -5)) return 'rgba(0,0,0,0)';
                            return GRIGIO_GRIGLIA;
                        },
                        lineWidth: 1, tickLength: 5, tickColor: GRIGIO_ASSE, tickWidth: 1, tickBorderDash: []
                    },
                    border: { display: false, dash: [1, 3] },
                    ticks: { autoSkip: false, padding: 4, color: '#222', font: { family: FONT, size: 11.5 } },
                    title: { display: true, text: titoloY, color: '#111', font: { family: FONT, size: 15 },
                             padding: { top: 8, bottom: 0 } }
                }
            }
        },
        plugins: [stileStata]
    });
});
console.log('grafici disegnati:', pannelli.length);
</script>
</body>
</html>
